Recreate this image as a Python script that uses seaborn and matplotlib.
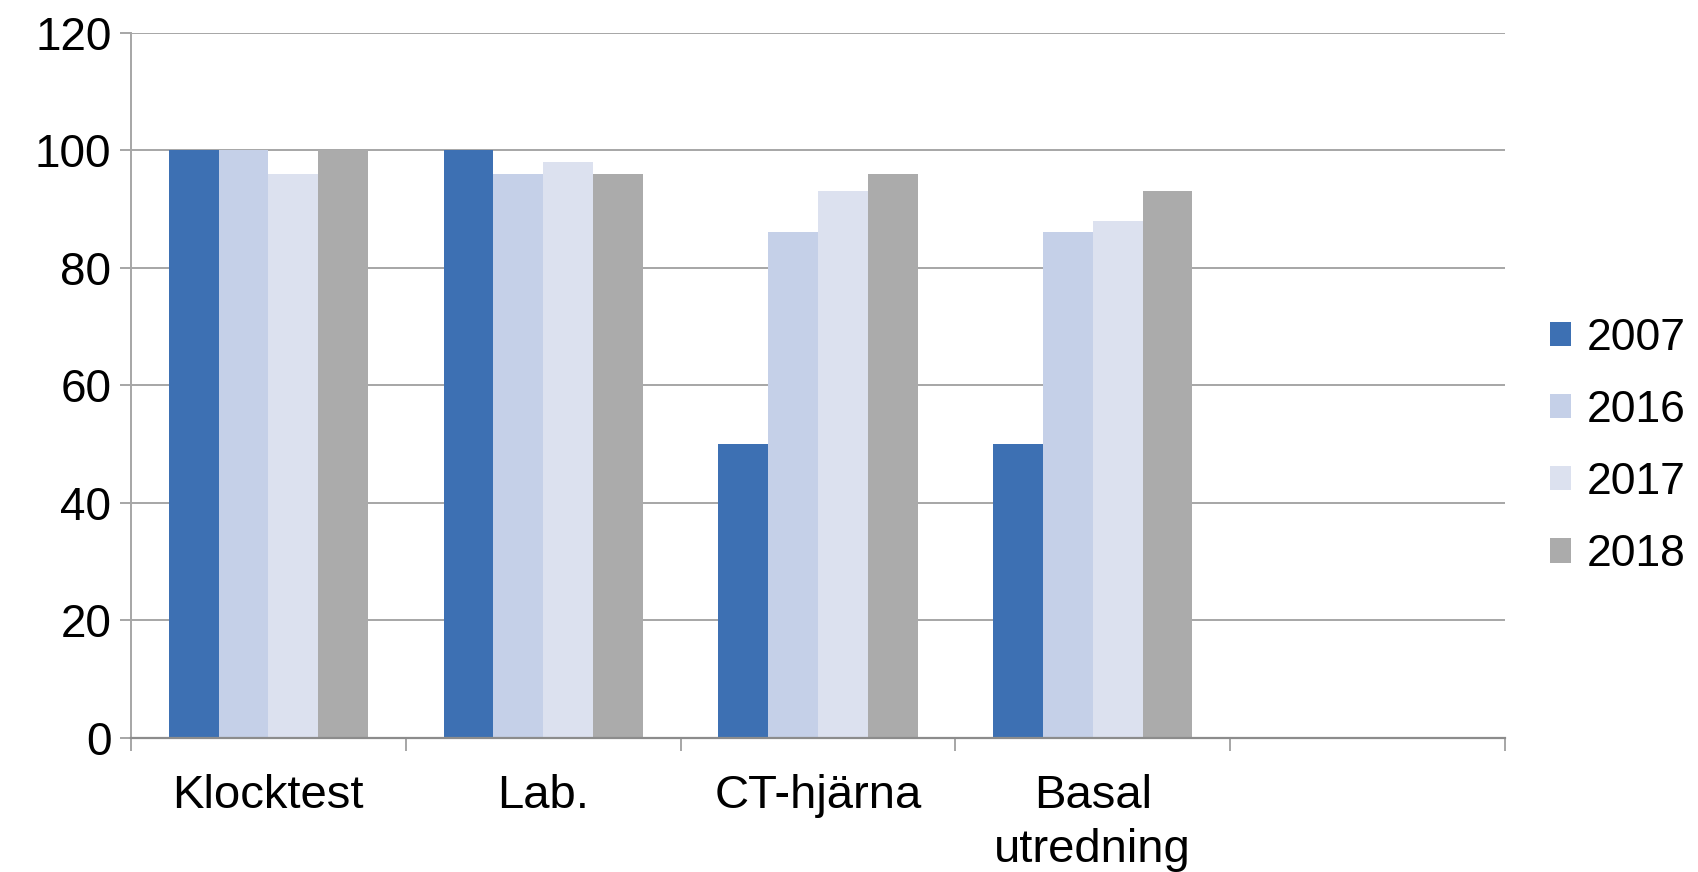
import matplotlib
matplotlib.use("Agg")
import matplotlib.pyplot as plt
import seaborn as sns
import pandas as pd
from matplotlib.patches import Patch
from matplotlib.ticker import FixedLocator

categories = ["Klocktest", "Lab.", "CT-hjärna", "Basal\nutredning"]
years = ["2007", "2016", "2017", "2018"]
v2007 = [100, 100, 50, 50]
v2016 = [100, 96, 86, 86]
v2017 = [96, 98, 93, 88]
v2018 = [100, 96, 96, 93]
colors = ["#3D70B3", "#C5D0E8", "#DCE1EF", "#ABABAB"]

rows = []
for yr, vals in zip(years, [v2007, v2016, v2017, v2018]):
    for c, v in zip(categories, vals):
        rows.append({"cat": c, "year": yr, "value": v})
df = pd.DataFrame(rows)

sns.set_theme(style="white")
plt.rcParams["font.family"] = ["Liberation Sans", "DejaVu Sans"]
plt.rcParams["text.color"] = "black"
plt.rcParams["xtick.color"] = "black"
plt.rcParams["ytick.color"] = "black"

fig = plt.figure(figsize=(16.98, 8.72), dpi=100)
ax = fig.add_axes([0.0771, 0.1542, 0.8092, 0.8085])

sns.barplot(data=df, x="cat", y="value", hue="year", order=categories,
            hue_order=years, palette=colors, width=0.725, saturation=1,
            linewidth=0, ax=ax, legend=False)

ax.set_xlim(-0.5, 4.5)
ax.set_ylim(0, 120)
ax.set_yticks(range(0, 121, 20))
ax.yaxis.grid(True, color="#A6A6A6", linewidth=1.4)
ax.set_axisbelow(True)
ax.set_xlabel("")
ax.set_ylabel("")

for s in ["top", "right"]:
    ax.spines[s].set_visible(False)
ax.spines["left"].set_color("#A6A6A6")
ax.spines["left"].set_linewidth(1.4)
ax.spines["bottom"].set_color("#8C8C8C")
ax.spines["bottom"].set_linewidth(1.6)

ax.set_xticks(range(len(categories)))
ax.set_xticklabels(categories, fontsize=34, va="top", linespacing=1.3, color="black")
ax.tick_params(axis="x", which="major", length=0, pad=26, labelcolor="black")
ax.xaxis.set_minor_locator(FixedLocator([-0.5, 0.5, 1.5, 2.5, 3.5, 4.5]))
ax.tick_params(axis="x", which="minor", length=9, width=1.4, color="#A6A6A6", bottom=True)
ax.tick_params(axis="y", which="major", length=8, width=1.4, color="#A6A6A6",
               left=True, labelsize=33, pad=6, labelcolor="black")

handles = [Patch(facecolor=c, edgecolor="none", label=y) for c, y in zip(colors, years)]
leg = fig.legend(handles=handles, loc="center left", bbox_to_anchor=(0.913, 0.488),
                 frameon=False, fontsize=32, handlelength=0.47, handleheight=0.47,
                 handletextpad=0.36, labelspacing=0.7, borderaxespad=0, borderpad=0)
for t in leg.get_texts():
    t.set_color("black")

fig.savefig("out.png", dpi=100)
